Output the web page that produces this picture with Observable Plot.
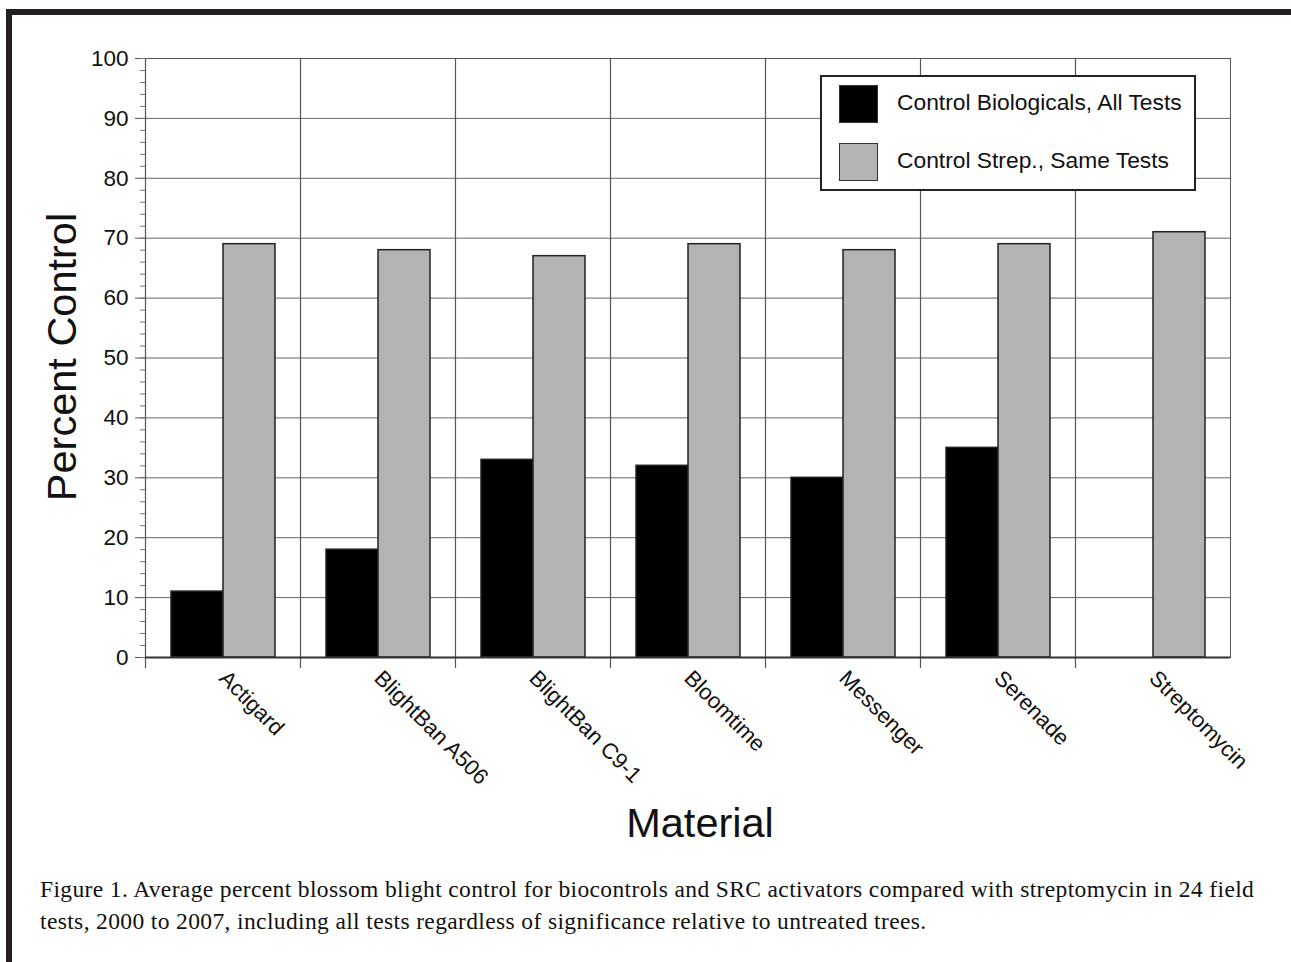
<!DOCTYPE html>
<html>
<head>
<meta charset="utf-8">
<script src="https://cdn.jsdelivr.net/npm/d3@7"></script>
<script src="https://cdn.jsdelivr.net/npm/@observablehq/plot@0.6"></script>
<style>
  html, body { margin: 0; padding: 0; background: #fff; }
  #page { position: relative; width: 1291px; height: 962px; overflow: hidden; background: #fff; }
  .bar-top { position: absolute; left: 6px; top: 9px; width: 1285px; height: 6px; background: #231f20; }
  .bar-left { position: absolute; left: 6px; top: 9px; width: 6px; height: 953px; background: #231f20; }
  #chart { position: absolute; left: 0; top: 0; }
  .lab { position: absolute; font-family: "Liberation Sans", Arial, sans-serif; color: #111; white-space: nowrap; }
  #ylab { left: 62px; top: 357px; font-size: 41.5px; transform: translate(-50%, -50%) rotate(-90deg); }
  #xlab { left: 700px; top: 823px; font-size: 41.5px; transform: translate(-50%, -50%); }
  #legend { position: absolute; left: 820px; top: 75px; width: 372px; height: 112px; border: 2px solid #222; background: #fff; box-sizing: content-box; }
  .sw { position: absolute; left: 17px; width: 37px; height: 36px; border: 1.5px solid #333; }
  .lt { position: absolute; left: 75px; font-family: "Liberation Sans", Arial, sans-serif; font-size: 22.8px; color: #111; white-space: nowrap; line-height: 26px; }
  #caption { position: absolute; left: 40px; top: 873px; font-family: "Liberation Serif", "Times New Roman", serif; font-size: 23.5px; line-height: 32px; color: #111; white-space: nowrap; letter-spacing: 0.37px; }
</style>
</head>
<body>
<div id="page">
  <div class="bar-top"></div>
  <div class="bar-left"></div>
  <div id="chart"></div>
  <div id="ylab" class="lab">Percent Control</div>
  <div id="xlab" class="lab">Material</div>
  <div id="legend"></div>
  <div id="caption"></div>
</div>
<script>
const materials = ["Actigard", "BlightBan A506", "BlightBan C9-1", "Bloomtime", "Messenger", "Serenade", "Streptomycin"];
const series = ["Control Biologicals, All Tests", "Control Strep., Same Tests"];
const biologicals = [11, 18, 33, 32, 30, 35, null];
const strep = [69, 68, 67, 69, 68, 69, 71];
const yTicks = [0, 10, 20, 30, 40, 50, 60, 70, 80, 90, 100];
const yMinorTicks = d3.range(0, 101, 2);
const seriesColors = ["#000000", "#b3b3b3"];
const captionLines = [
  "Figure 1. Average percent blossom blight control for biocontrols and SRC activators compared with streptomycin in 24 field",
  "tests, 2000 to 2007, including all tests regardless of significance relative to untreated trees."
];

const data = [];
materials.forEach((m, i) => {
  if (biologicals[i] != null) data.push({material: m, series: series[0], value: biologicals[i]});
  if (strep[i] != null) data.push({material: m, series: series[1], value: strep[i]});
});

const chart = Plot.plot({
  width: 1291,
  height: 860,
  marginLeft: 145,
  marginRight: 61,
  marginTop: 58,
  marginBottom: 203,
  style: {fontFamily: "'Liberation Sans', Arial, sans-serif", color: "#111", background: "transparent", overflow: "visible"},
  fx: {domain: materials, padding: 0, label: null},
  x: {domain: series, paddingInner: 0, paddingOuter: 0.49, axis: null},
  y: {domain: [0, 100], label: null},
  color: {domain: series, range: seriesColors},
  marks: [
    Plot.gridY(yTicks, {stroke: "#555", strokeOpacity: 0.9, strokeWidth: 1}),
    Plot.frame({stroke: "#555", strokeWidth: 1}),
    Plot.frame({anchor: "left", stroke: "#555", strokeWidth: 1.2, insetBottom: -10}),
    Plot.barY(data, {fx: "material", x: "series", y: "value", fill: "series", stroke: "#222", strokeWidth: 1.5}),
    Plot.ruleY([0], {stroke: "#333", strokeWidth: 2}),
    Plot.axisY(yTicks, {tickSize: 10, tickPadding: 7, fontSize: 22.5, label: null, stroke: "#555"}),
    Plot.axisY(yMinorTicks, {tickSize: 5, text: null, label: null, stroke: "#777"}),
    Plot.axisFx({anchor: "bottom", tickRotate: 45, tickSize: 0, tickPadding: 17, fontSize: 22, label: null})
  ]
});
document.getElementById("chart").appendChild(chart);

const legend = document.getElementById("legend");
series.forEach((s, i) => {
  const sw = document.createElement("div");
  sw.className = "sw";
  sw.style.top = (8 + i * 58) + "px";
  sw.style.background = seriesColors[i];
  legend.appendChild(sw);
  const t = document.createElement("div");
  t.className = "lt";
  t.style.top = (12 + i * 58) + "px";
  t.textContent = s;
  legend.appendChild(t);
});

document.getElementById("caption").innerHTML = captionLines.map(l => l.replace(/&/g, "&amp;")).join("<br>");
</script>
</body>
</html>
